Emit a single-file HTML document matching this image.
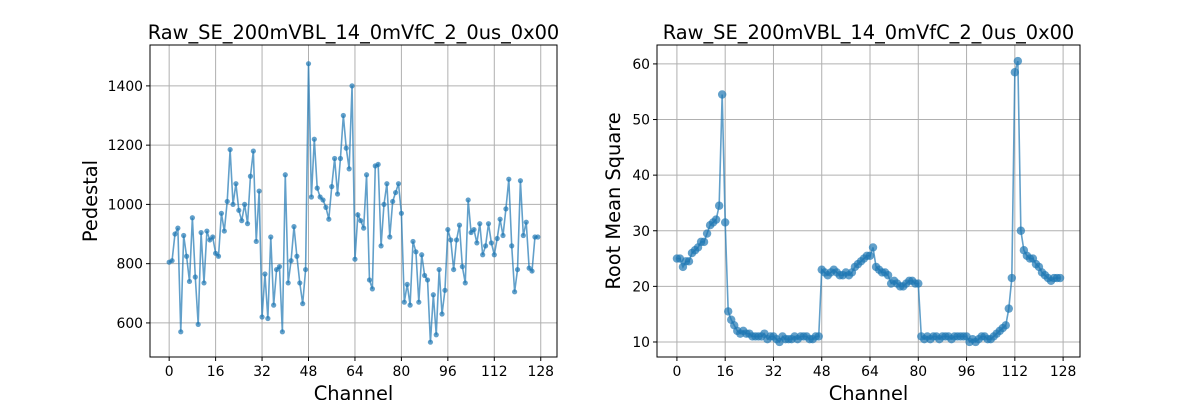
<!DOCTYPE html>
<html><head><meta charset="utf-8"><style>
body{margin:0;background:#fff}
svg text{font-family:"DejaVu Sans","Liberation Sans",sans-serif;fill:#000}
</style></head><body>
<svg id="fig" width="1200" height="400"></svg>
<script>
const channels=[...Array(128).keys()];
const pedestal=[805,810,900,920,570,895,825,740,955,755,595,905,735,910,880,890,835,825,970,910,1010,1185,1000,1070,980,945,1000,935,1095,1180,875,1045,620,765,615,890,660,780,790,570,1100,735,810,925,825,735,665,780,1475,1025,1220,1055,1025,1015,990,950,1060,1155,1035,1155,1300,1190,1120,1400,815,965,945,920,1100,745,715,1130,1135,860,1000,1070,890,1010,1040,1070,970,670,730,660,875,840,670,830,760,745,535,695,560,780,630,710,915,880,780,880,930,790,735,1015,905,915,870,935,830,860,935,870,830,885,950,895,985,1085,860,705,780,1080,895,940,785,775,890,890];
const rms=[25,25,23.5,24.5,24.5,26,26.5,27,28,28,29.5,31,31.5,32,34.5,54.5,31.5,15.5,14,13,12,11.5,12,11.5,11.5,11,11,11,11,11.5,10.5,11,11,10.5,10,11,10.5,10.5,10.5,11,10.5,11,11,11,10.5,10.5,11,11,23,22.5,22,22.5,23,22.5,22,22,22.5,22,22.5,23.5,24,24.5,25,25.5,25.5,27,23.5,23,22.5,22.5,22,20.5,21,20.5,20,20,20.5,21,21,20.5,20.5,11,10.5,11,10.5,11,11,10.5,11,11,11,10.5,11,11,11,11,11,10,10.5,10,10.5,11,11,10.5,10.5,11,11.5,12,12.5,13,16,21.5,58.5,60.5,30,26.5,25.5,25,25,24,23.5,22.5,22,21.5,21,21.5,21.5,21.5];
const xTicks=[0,16,32,48,64,80,96,112,128];
const pedTicks=[600,800,1000,1200,1400];
const rmsTicks=[10,20,30,40,50,60];
const title="Raw_SE_200mVBL_14_0mVfC_2_0us_0x00";
const NS="http://www.w3.org/2000/svg";
const svg=document.getElementById('fig');
function mk(t,a,p){const e=document.createElementNS(NS,t);for(const k in a)e.setAttribute(k,a[k]);(p||svg).appendChild(e);return e;}
function panel(name,L,R,T,B,xmin,xmax,ymin,ymax,yt,vals,ylab,mr,ylOff){
 const g=mk('g',{});
 
 
 const X=c=>L+(c-xmin)/(xmax-xmin)*(R-L);
 const Y=v=>B-(v-ymin)/(ymax-ymin)*(B-T);
 xTicks.forEach(t=>{const x=X(t);
  const gl=mk('line',{x1:x,x2:x,y1:T,y2:B,stroke:'#b0b0b0','stroke-width':1},g);
  
  mk('line',{x1:x,x2:x,y1:B,y2:B+4,stroke:'#000'},g);
  const tx=mk('text',{x:x,y:B+19,'text-anchor':'middle','font-size':13.9},g);tx.textContent=t;
  });
 yt.forEach(t=>{const y=Y(t);
  const gl=mk('line',{x1:L,x2:R,y1:y,y2:y,stroke:'#b0b0b0','stroke-width':1},g);
  
  mk('line',{x1:L-4,x2:L,y1:y,y2:y,stroke:'#000'},g);
  const tx=mk('text',{x:L-7,y:y+5,'text-anchor':'end','font-size':13.9},g);tx.textContent=t;
  });
 const pts=vals.map((v,i)=>X(channels[i])+','+Y(v)).join(' ');
 const pl=mk('polyline',{points:pts,fill:'none',stroke:'#1f77b4','stroke-opacity':0.7,'stroke-width':1.6},g);
 
 vals.forEach((v,i)=>{const c=mk('circle',{cx:X(channels[i]),cy:Y(v),r:mr,fill:'#1f77b4','fill-opacity':0.7},g);
  });
 const fr=mk('rect',{x:L,y:T,width:R-L,height:B-T,fill:'none',stroke:'#000','stroke-width':1},g);
 
 const tt=mk('text',{x:(L+R)/2,y:T-6,'text-anchor':'middle','font-size':19.4},g);tt.textContent=title;
 
 const xl=mk('text',{x:(L+R)/2,y:B+43,'text-anchor':'middle','font-size':19.4},g);xl.textContent='Channel';
 
 const yl=mk('text',{x:0,y:0,'text-anchor':'middle','font-size':19.4,transform:`translate(${L-ylOff},${(T+B)/2}) rotate(-90)`},g);yl.textContent=ylab;
 
}
panel('pedestal-chart',150,557,45,357,-6.6,127+6.6,485,1538,pedTicks,pedestal,'Pedestal',2.6,53);
panel('rms-chart',657,1080,45,357,-6.6,127+6.6,7.3,63.4,rmsTicks,rms,'Root Mean Square',4.2,37);
</script>
</body></html>
